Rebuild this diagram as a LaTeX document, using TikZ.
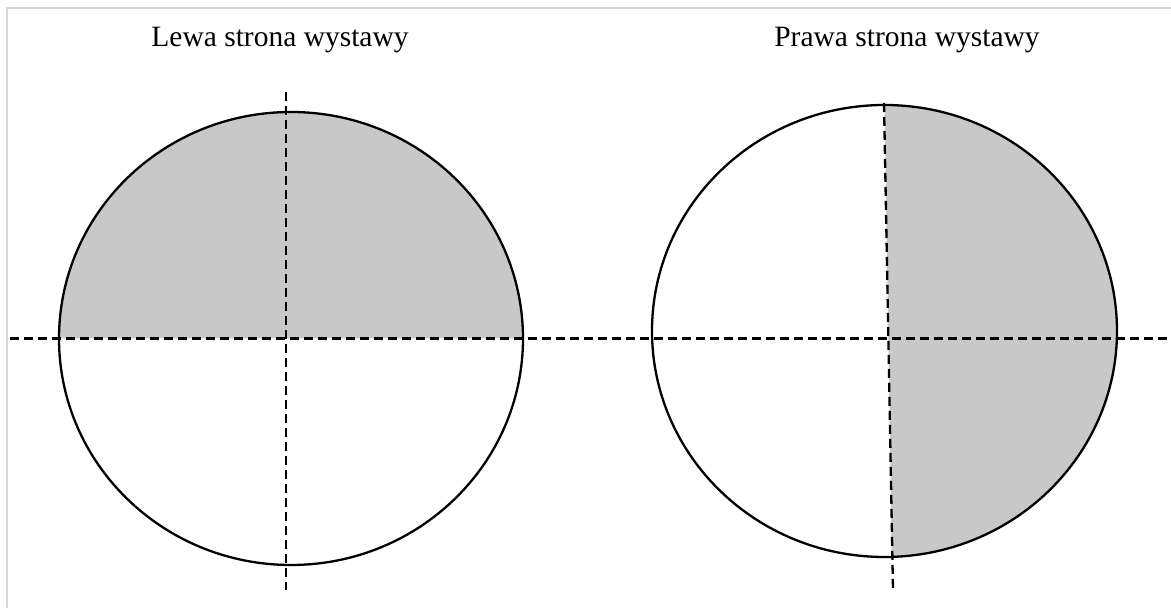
\documentclass[tikz,border=0pt]{standalone}
\usepackage{fontspec}
\setmainfont{Liberation Serif}
\usepackage{tikz}
\usepackage{xcolor}
\definecolor{cShade}{RGB}{200,200,200}
\definecolor{cFrame}{RGB}{215,215,215}
\tikzset{
    outline/.style ={draw=black, line width=2.3pt},
    halffill/.style={fill=cShade},
    axisline/.style={draw=black, line width=2.3pt, dash pattern=on 9pt off 5pt},
    frameline/.style={draw=cFrame, line width=1.8pt},
    caption/.style ={anchor=base, font=\fontsize{29.5}{35}\selectfont, inner sep=0pt},
}
\begin{document}
\begin{tikzpicture}[x=1pt, y=1pt]
    \useasboundingbox (0,0) rectangle (1171,608);
    \draw[frameline] (7,0) -- (7,600) -- (1171,600);
    \coordinate (cl) at (291,269.5);
    \coordinate (cr) at (884.5,277);
    \node[caption] (tl) at (280,561) {Lewa strona wystawy};
    \node[caption] (tr) at (907,561) {Prawa strona wystawy};
    \fill[halffill] (59,269.5) arc[start angle=180, end angle=0, x radius=232, y radius=226.5] -- cycle;
    \fill[halffill] (884.5,503) arc[start angle=90, end angle=-88.2, x radius=232.5, y radius=226] -- cycle;
    \draw[outline] (cl) ellipse[x radius=232, y radius=226.5];
    \draw[outline] (cr) ellipse[x radius=232.5, y radius=226];
    \coordinate (hl) at (10,269.5);
    \coordinate (hr) at (1171,269.5);
    \coordinate (vlt) at (286,516);
    \coordinate (vlb) at (286,18);
    \coordinate (vrt) at (884,505);
    \coordinate (vrb) at (893,18);
    \draw[axisline] (hl) -- (hr);
    \draw[axisline] (vlt) -- (vlb);
    \draw[axisline] (vrt) -- (vrb);
\end{tikzpicture}
\end{document}
